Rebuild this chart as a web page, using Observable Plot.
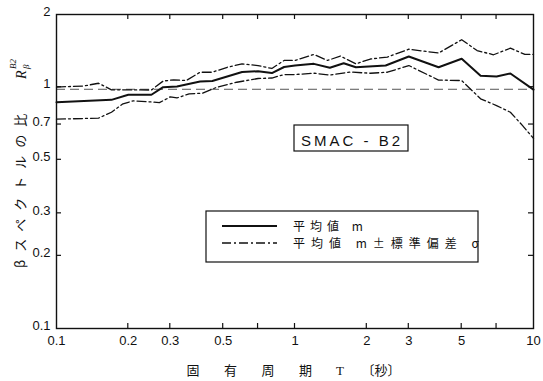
<!DOCTYPE html>
<html>
<head>
<meta charset="utf-8">
<script src="https://cdn.jsdelivr.net/npm/d3@7"></script>
<script src="https://cdn.jsdelivr.net/npm/@observablehq/plot@0.6"></script>
<style>
  html, body { margin: 0; padding: 0; background: #fff; }
  #chart { width: 543px; height: 381px; }
</style>
</head>
<body>
<div id="chart"></div>
<script>
// ---- data ----
const meanT = [0.1,0.17,0.2,0.25,0.28,0.32,0.4,0.45,0.6,0.7,0.8,0.9,1.0,1.2,1.4,1.6,1.8,2.4,3,4,5,6,7,8,10];
const meanR = [0.866,0.886,0.93,0.93,1.0,1.006,1.055,1.06,1.155,1.164,1.144,1.212,1.229,1.249,1.203,1.257,1.209,1.229,1.34,1.209,1.311,1.114,1.107,1.139,0.977];

const upperT = [0.1,0.13,0.15,0.17,0.25,0.28,0.31,0.35,0.4,0.45,0.52,0.6,0.7,0.8,0.9,1.0,1.2,1.37,1.55,1.8,2.07,2.44,3,4,5,5.8,6.8,8,9.2,10];
const upperR = [1.001,1.011,1.038,0.975,0.973,1.06,1.072,1.065,1.153,1.153,1.209,1.249,1.229,1.195,1.29,1.29,1.366,1.29,1.346,1.249,1.308,1.333,1.436,1.385,1.572,1.418,1.362,1.45,1.366,1.366];

const lowerT = [0.1,0.15,0.17,0.19,0.21,0.25,0.27,0.29,0.3,0.32,0.36,0.41,0.47,0.57,0.7,0.8,0.9,1.0,1.2,1.4,1.7,2.07,2.44,3,4,5,6,7,8,9,10];
const lowerR = [0.737,0.744,0.787,0.853,0.878,0.868,0.863,0.895,0.912,0.902,0.938,0.944,0.999,1.048,1.086,1.091,1.128,1.128,1.142,1.123,1.155,1.142,1.153,1.229,1.070,1.065,0.895,0.839,0.787,0.693,0.613];

const refLevel = [0.98];

const xTicks = [0.1,0.2,0.3,0.5,0.7,1,2,3,5,7,10];
const xTickLabels = ["0.1","0.2","0.3","0.5","0.7","1","2","3","5","7","10"];
const yTicks = [0.1,0.2,0.3,0.5,0.7,1,2];
const yTickLabels = ["0.1","0.2","0.3","0.5","0.7","1","2"];

const xLabelMain = "固有周期";
const xLabelT = "T";
const xLabelUnit = "〔秒〕";
const yLabelMain = "βスペクトルの比";
const boxText = "SMAC - B2";
const legendMean = "平均値 m";
const legendBand = "平均値 m±標準偏差 σ";

// ---- build tables ----
const toRows = (T, R) => T.map((t, i) => ({T: t, R: R[i]}));
const meanRows = toRows(meanT, meanR);
const upperRows = toRows(upperT, upperR);
const lowerRows = toRows(lowerT, lowerR);

const dashDot = "9,3,2,3";
const ink = "#111";

const chart = Plot.plot({
  width: 543,
  height: 381,
  marginLeft: 56,
  marginRight: 10,
  marginTop: 14,
  marginBottom: 53,
  style: {background: "#fff", color: ink, fontFamily: "'Liberation Sans', Arial, sans-serif", fontSize: "13px"},
  x: {type: "log", domain: [0.1, 10]},
  y: {type: "log", domain: [0.1, 2]},
  marks: [
    Plot.ruleY(refLevel, {stroke: "#555", strokeWidth: 1, strokeDasharray: "9,5"}),
    Plot.line(upperRows, {x: "T", y: "R", stroke: ink, strokeWidth: 1.3, strokeDasharray: dashDot}),
    Plot.line(lowerRows, {x: "T", y: "R", stroke: ink, strokeWidth: 1.3, strokeDasharray: dashDot}),
    Plot.line(meanRows, {x: "T", y: "R", stroke: ink, strokeWidth: 2}),
    Plot.frame({stroke: ink, strokeWidth: 1.4}),
    Plot.axisX({ticks: xTicks, tickFormat: (d) => xTickLabels[xTicks.indexOf(d)], tickSize: 0, tickPadding: 7, label: null, fontSize: 13}),
    Plot.axisY({ticks: yTicks, tickFormat: (d) => yTickLabels[yTicks.indexOf(d)], tickSize: 0, tickPadding: 6, label: null, fontSize: 13, dy: -3})
  ]
});

document.getElementById("chart").appendChild(chart);

// ---- inward ticks and annotations, positioned with the chart's scales ----
const svg = d3.select(chart);
const sx = chart.scale("x");
const sy = chart.scale("y");
const x0 = sx.apply(0.1), x1 = sx.apply(10);
const y0 = sy.apply(0.1), y1 = sy.apply(2);
const tl = 5;
const g = svg.append("g").attr("stroke", ink).attr("stroke-width", 1.2);
xTicks.slice(1, -1).forEach(v => {
  const px = sx.apply(v);
  g.append("line").attr("x1", px).attr("x2", px).attr("y1", y0).attr("y2", y0 - tl);
  g.append("line").attr("x1", px).attr("x2", px).attr("y1", y1).attr("y2", y1 + tl);
});
yTicks.slice(1, -1).forEach(v => {
  const py = sy.apply(v);
  g.append("line").attr("x1", x0).attr("x2", x0 + tl).attr("y1", py).attr("y2", py);
  g.append("line").attr("x1", x1).attr("x2", x1 - tl).attr("y1", py).attr("y2", py);
});

const cjk = "'Noto Sans CJK JP', 'Noto Sans', sans-serif";
const serif = "'Liberation Serif', 'DejaVu Serif', serif";
const ann = svg.append("g").attr("text-anchor", "start").attr("fill", ink);

// x-axis title
ann.append("text").attr("x", 186.5).attr("y", 375).attr("font-family", cjk).attr("font-size", 13)
  .attr("letter-spacing", "24.5px").text(xLabelMain);
ann.append("text").attr("x", 340).attr("y", 375).attr("text-anchor", "middle").attr("font-family", serif)
  .attr("font-size", 13).text(xLabelT);
ann.append("text").attr("x", 381).attr("y", 375).attr("text-anchor", "middle").attr("font-family", cjk)
  .attr("font-size", 13).text(xLabelUnit);

// y-axis title
ann.append("text").attr("transform", "translate(25,268) rotate(-90)").attr("font-family", cjk)
  .attr("font-size", 13).attr("letter-spacing", "8px").text(yLabelMain);
ann.append("text").attr("transform", "translate(26,79) rotate(-90)").attr("font-family", serif)
  .attr("font-style", "italic").attr("font-size", 14).text("R");
ann.append("text").attr("transform", "translate(16,69) rotate(-90)").attr("font-family", serif)
  .attr("font-style", "italic").attr("font-size", 9).text("B2");
ann.append("text").attr("transform", "translate(29,69) rotate(-90)").attr("font-family", serif)
  .attr("font-style", "italic").attr("font-size", 9).text("β");

// SMAC box
ann.append("rect").attr("x", 294).attr("y", 125).attr("width", 114).attr("height", 26)
  .attr("fill", "#fff").attr("stroke", ink).attr("stroke-width", 1.2);
ann.append("text").attr("x", 352).attr("y", 146).attr("text-anchor", "middle")
  .attr("font-family", "'Liberation Sans', Arial, sans-serif").attr("font-size", 15)
  .attr("letter-spacing", "3px").text(boxText);

// legend
ann.append("rect").attr("x", 206).attr("y", 211).attr("width", 272).attr("height", 51)
  .attr("fill", "#fff").attr("stroke", ink).attr("stroke-width", 1.2);
ann.append("line").attr("x1", 222).attr("x2", 277).attr("y1", 226).attr("y2", 226)
  .attr("stroke", ink).attr("stroke-width", 2);
ann.append("line").attr("x1", 222).attr("x2", 277).attr("y1", 243).attr("y2", 243)
  .attr("stroke", ink).attr("stroke-width", 1.3).attr("stroke-dasharray", dashDot);
ann.append("text").attr("x", 293).attr("y", 230.5).attr("font-family", cjk).attr("font-size", 12)
  .attr("letter-spacing", "5px").text(legendMean);
ann.append("text").attr("x", 293).attr("y", 247.5).attr("font-family", cjk).attr("font-size", 12)
  .attr("letter-spacing", "6px").text(legendBand);
</script>
</body>
</html>
